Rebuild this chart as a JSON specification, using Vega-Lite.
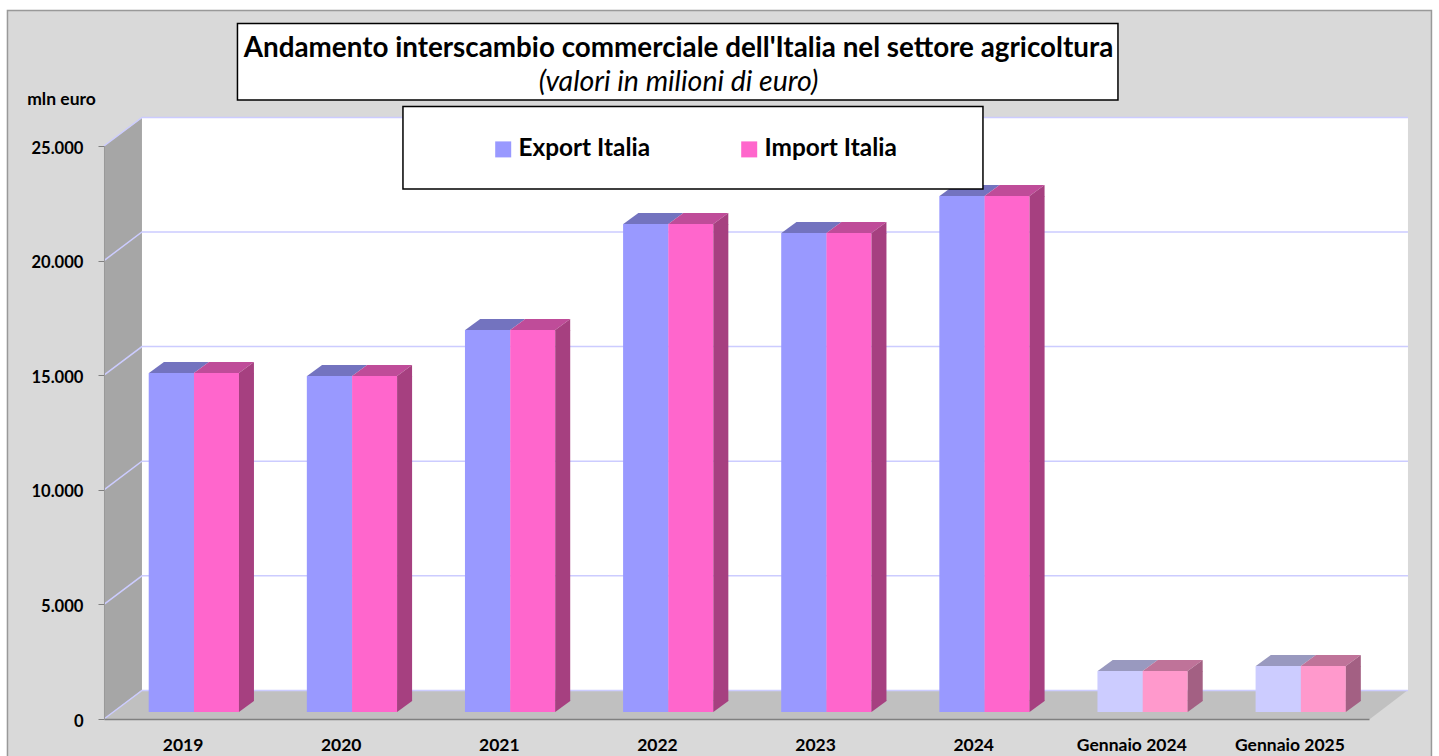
{
"$schema":"https://vega.github.io/schema/vega-lite/v6.json",
"width":1439,"height":756,"padding":0,"autosize":{"type":"none"},
"background":"#ffffff",
"config":{"view":{"stroke":null},"font":"Lato"},
"title":{"text":"Andamento interscambio commerciale dell'Italia nel settore  agricoltura","subtitle":"(valori in milioni di euro)","anchor":"middle","orient":"top","offset":-96,"dx":-41,"font":"Lato","fontSize":27.8,"fontWeight":"bold","color":"#000000","subtitleFont":"Lato","subtitleFontSize":28.5,"subtitleFontStyle":"italic","subtitleColor":"#000000","subtitlePadding":5},
"datasets":{
"barre":[
{"periodo":"2019","tipo":"anno","serie":"Export Italia","valore":14790},
{"periodo":"2019","tipo":"anno","serie":"Import Italia","valore":14790},
{"periodo":"2020","tipo":"anno","serie":"Export Italia","valore":14660},
{"periodo":"2020","tipo":"anno","serie":"Import Italia","valore":14660},
{"periodo":"2021","tipo":"anno","serie":"Export Italia","valore":16670},
{"periodo":"2021","tipo":"anno","serie":"Import Italia","valore":16670},
{"periodo":"2022","tipo":"anno","serie":"Export Italia","valore":21290},
{"periodo":"2022","tipo":"anno","serie":"Import Italia","valore":21290},
{"periodo":"2023","tipo":"anno","serie":"Export Italia","valore":20900},
{"periodo":"2023","tipo":"anno","serie":"Import Italia","valore":20900},
{"periodo":"2024","tipo":"anno","serie":"Export Italia","valore":22510},
{"periodo":"2024","tipo":"anno","serie":"Import Italia","valore":22510},
{"periodo":"Gennaio 2024","tipo":"mese","serie":"Export Italia","valore":1790},
{"periodo":"Gennaio 2024","tipo":"mese","serie":"Import Italia","valore":1790},
{"periodo":"Gennaio 2025","tipo":"mese","serie":"Export Italia","valore":2010},
{"periodo":"Gennaio 2025","tipo":"mese","serie":"Import Italia","valore":2010}
],
"griglia":[{"livello":0},{"livello":5000},{"livello":10000},{"livello":15000},{"livello":20000},{"livello":25000}],
"ancora":[{"elemento":"sfondo"}]
},
"layer":[
{"data":{"name":"ancora"},
 "mark":{"type":"point","filled":true,"opacity":1,"size":4,"fill":"#d9d9d9","stroke":"#999999","strokeWidth":1.5,"shape":"M-175.6 -708.5 H1248.4 V60 H-175.6 Z"},
 "encoding":{
  "x":{"datum":"2019","type":"nominal","scale":{"type":"band","domain":["2019","2020","2021","2022","2023","2024","Gennaio 2024","Gennaio 2025"],"range":[104,1369],"paddingInner":0,"paddingOuter":0},"axis":{"title":null,"orient":"bottom","offset":-37,"zindex":1,"domainColor":"#808080","domainWidth":1.5,"ticks":false,"labelPadding":17,"labelAngle":0,"labelFont":"Lato","labelFontSize":17.5,"labelFontWeight":"bold","labelColor":"#000000","labelLimit":200}},
  "y":{"datum":0,"type":"quantitative","scale":{"type":"linear","domain":[0,25000],"range":[719,146],"nice":false,"zero":false},"axis":{"title":"mln euro","orient":"left","offset":-104,"zindex":1,"grid":false,"values":[0,5000,10000,15000,20000,25000],"labelExpr":"replace(format(datum.value,','),',','.')","domainColor":"#999999","tickColor":"#808080","tickSize":6,"labelPadding":15,"labelOffset":2,"labelFont":"Lato","labelFontSize":16.6,"labelFontWeight":"bold","labelColor":"#000000","titleFont":"Lato","titleFontSize":17.5,"titleFontWeight":"bold","titleColor":"#000000","titleAngle":0,"titleAlign":"center","titleBaseline":"middle","titleX":-43,"titleY":99}}
 }},
{"data":{"name":"ancora"},
 "mark":{"type":"point","filled":true,"opacity":1,"size":4,"fill":"#ffffff","shape":"M-41.1 -601 H1224.9 V-29 H-41.1 Z"},
 "encoding":{"x":{"datum":"2019","type":"nominal"},"y":{"datum":0,"type":"quantitative"}}},
{"data":{"name":"ancora"},
 "mark":{"type":"point","filled":true,"opacity":1,"size":4,"fill":"#a6a6a6","shape":"M-79.1 0 L-41.1 -29 V-601 L-79.1 -573 Z"},
 "encoding":{"x":{"datum":"2019","type":"nominal"},"y":{"datum":0,"type":"quantitative"}}},
{"data":{"name":"ancora"},
 "mark":{"type":"point","filled":true,"opacity":1,"size":4,"fill":"#c0c0c0","shape":"M-79.1 0 L-41.1 -29 H1224.9 L1186.9 0 Z"},
 "encoding":{"x":{"datum":"2019","type":"nominal"},"y":{"datum":0,"type":"quantitative"}}},
{"data":{"name":"griglia"},
 "mark":{"type":"point","filled":false,"opacity":1,"size":4,"stroke":"#ccccff","strokeWidth":1.5,"shape":"M-79.1 0 L-41.1 -28.6 H1224.9"},
 "encoding":{"x":{"datum":"2019","type":"nominal"},"y":{"field":"livello","type":"quantitative"}}},
{"data":{"name":"barre"},"transform":[{"filter":"datum.serie==='Export Italia'"}],
 "mark":{"type":"bar","width":45.5,"xOffset":-11.6,"yOffset":-7,"y2Offset":-7},
 "encoding":{"x":{"field":"periodo","type":"nominal"},"y":{"field":"valore","type":"quantitative","stack":null},"y2":{"datum":0},
  "color":{"condition":{"test":"datum.tipo==='mese'","value":"#ccccff"},"field":"serie","type":"nominal","scale":{"domain":["Export Italia","Import Italia"],"range":["#9999ff","#ff66cc"]},
   "legend":{"title":null,"orient":"none","legendX":491,"legendY":137,"direction":"horizontal","columns":2,"symbolType":"square","symbolSize":256,"symbolStrokeWidth":0,"labelFont":"Lato","labelFontSize":24.4,"labelFontWeight":"bold","labelColor":"#000000","labelOffset":3,"columnPadding":86,"padding":0,"labelLimit":300}}}},
{"data":{"name":"barre"},"transform":[{"filter":"datum.serie==='Import Italia'"}],
 "mark":{"type":"bar","width":45,"xOffset":33.4,"yOffset":-7,"y2Offset":-7},
 "encoding":{"x":{"field":"periodo","type":"nominal"},"y":{"field":"valore","type":"quantitative","stack":null},"y2":{"datum":0},
  "color":{"condition":{"test":"datum.tipo==='mese'","value":"#ff99cc"},"field":"serie","type":"nominal"}}},
{"data":{"name":"barre"},"transform":[{"filter":"datum.serie==='Export Italia'"}],
 "mark":{"type":"point","filled":true,"opacity":1,"size":4,"shape":"M-34.1 -7 H10.9 L25.9 -18 H-19.1 Z"},
 "encoding":{"x":{"field":"periodo","type":"nominal"},"y":{"field":"valore","type":"quantitative"},
  "fill":{"condition":{"test":"datum.tipo==='mese'","value":"#9999bf"},"value":"#7373bf"}}},
{"data":{"name":"barre"},"transform":[{"filter":"datum.serie==='Import Italia'"}],
 "mark":{"type":"point","filled":true,"opacity":1,"size":4,"shape":"M10.9 -7 H55.9 L70.9 -18 H25.9 Z"},
 "encoding":{"x":{"field":"periodo","type":"nominal"},"y":{"field":"valore","type":"quantitative"},
  "fill":{"condition":{"test":"datum.tipo==='mese'","value":"#bf7399"},"value":"#bf4c99"}}},
{"data":{"name":"barre"},"transform":[{"filter":"datum.serie==='Import Italia'"}],
 "mark":{"type":"bar","width":15,"xOffset":63.4,"yOffset":-7,"y2Offset":-18},
 "encoding":{"x":{"field":"periodo","type":"nominal"},"y":{"field":"valore","type":"quantitative","stack":null},"y2":{"datum":0},
  "fill":{"condition":{"test":"datum.tipo==='mese'","value":"#a36083"},"value":"#a64080"}}},
{"data":{"name":"barre"},"transform":[{"filter":"datum.serie==='Import Italia'"}],
 "mark":{"type":"point","filled":true,"opacity":1,"size":4,"shape":"M55.9 -7 L70.9 -18 V-6.5 H55.9 Z"},
 "encoding":{"x":{"field":"periodo","type":"nominal"},"y":{"field":"valore","type":"quantitative"},
  "fill":{"condition":{"test":"datum.tipo==='mese'","value":"#a36083"},"value":"#a64080"}}},
{"data":{"name":"barre"},"transform":[{"filter":"datum.serie==='Import Italia'"}],
 "mark":{"type":"point","filled":true,"opacity":1,"size":4,"shape":"M55.9 -18.5 H70.9 V-18 L55.9 -7 Z"},
 "encoding":{"x":{"field":"periodo","type":"nominal"},"y":{"datum":0,"type":"quantitative"},
  "fill":{"condition":{"test":"datum.tipo==='mese'","value":"#a36083"},"value":"#a64080"}}},
{"data":{"name":"ancora"},
 "mark":{"type":"point","filled":true,"opacity":1,"size":4,"fill":"#ffffff","stroke":"#000000","strokeWidth":1.5,"shape":"M54.4 -695.5 H934.9 V-619 H54.4 Z"},
 "encoding":{"x":{"datum":"2019","type":"nominal"},"y":{"datum":0,"type":"quantitative"}}},
{"data":{"name":"ancora"},
 "mark":{"type":"point","filled":true,"opacity":1,"size":4,"fill":"#ffffff","stroke":"#000000","strokeWidth":1.5,"shape":"M219.9 -612.5 H799.9 V-530 H219.9 Z"},
 "encoding":{"x":{"datum":"2019","type":"nominal"},"y":{"datum":0,"type":"quantitative"}}}
]
}
